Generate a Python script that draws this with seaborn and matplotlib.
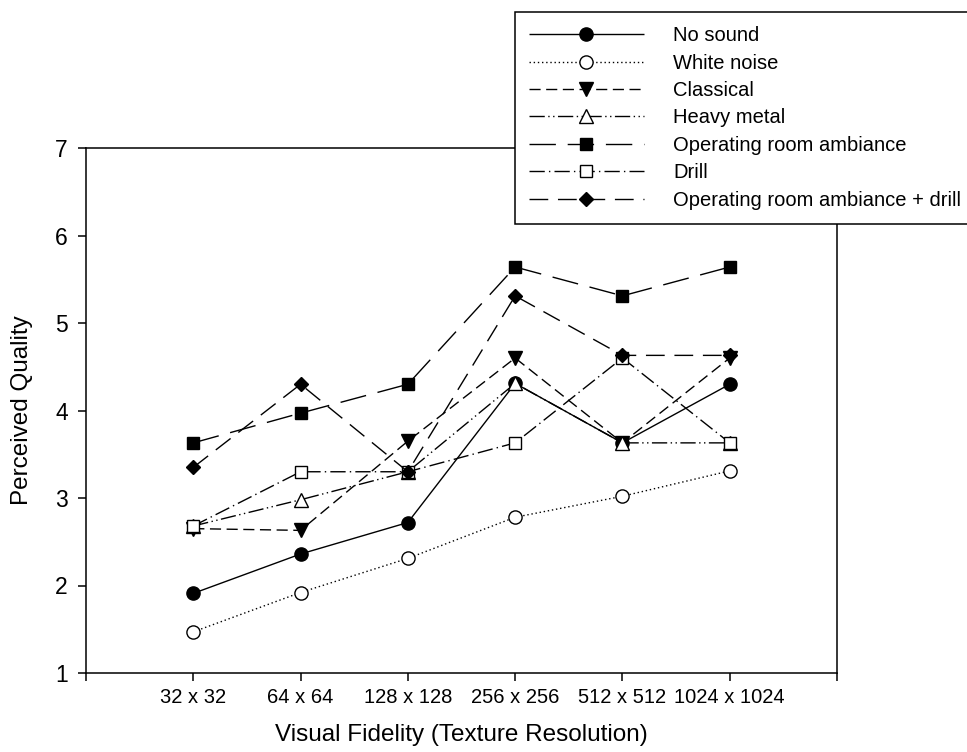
import matplotlib
matplotlib.use("Agg")
import matplotlib.pyplot as plt
import seaborn as sns
import pandas as pd

categories = ["32 x 32", "64 x 64", "128 x 128", "256 x 256", "512 x 512", "1024 x 1024"]
no_sound = [1.91, 2.36, 2.72, 4.31, 3.63, 4.30]
white_noise = [1.47, 1.92, 2.31, 2.78, 3.02, 3.31]
classical = [2.65, 2.63, 3.65, 4.60, 3.63, 4.60]
heavy_metal = [2.68, 2.98, 3.30, 4.31, 3.63, 3.63]
or_ambiance = [3.63, 3.97, 4.30, 5.64, 5.31, 5.64]
drill = [2.68, 3.30, 3.30, 3.63, 4.60, 3.63]
or_drill = [3.35, 4.30, 3.30, 5.31, 4.63, 4.63]
y_ticks = [1, 2, 3, 4, 5, 6, 7]

series = [
    ("No sound", no_sound, "o", "black", (0, ()), 9.5),
    ("White noise", white_noise, "o", "white", (0, (1, 2)), 9.5),
    ("Classical", classical, "v", "black", (0, (8, 4)), 10),
    ("Heavy metal", heavy_metal, "^", "white", (0, (11, 2.5, 1, 2.5, 1, 2.5)), 10),
    ("Operating room ambiance", or_ambiance, "s", "black", (0, (19, 8.5)), 9),
    ("Drill", drill, "s", "white", (0, (11, 3, 1, 3)), 9),
    ("Operating room ambiance + drill", or_drill, "D", "black", (0, (13.5, 7)), 7.5),
]

sns.set_style("ticks")
plt.rcParams["font.family"] = ["Liberation Sans", "DejaVu Sans"]
plt.rcParams.update({"text.color": "black", "axes.labelcolor": "black",
                     "xtick.color": "black", "ytick.color": "black"})

fig = plt.figure(figsize=(9.67, 7.52), dpi=100)
ax = fig.add_axes([86 / 967, 1 - 673 / 752, (837 - 86) / 967, (673 - 148) / 752])

for name, vals, mk, fc, ls, ms in series:
    df = pd.DataFrame({"x": categories, "y": vals})
    sns.lineplot(data=df, x="x", y="y", ax=ax, sort=False, color="black",
                 linestyle=ls, linewidth=1.0, marker=mk, markersize=ms,
                 markerfacecolor=fc, markeredgecolor="black", markeredgewidth=1.0,
                 label=name)

ax.set_xlim(-1, len(categories))
ax.set_xticks(list(range(-1, len(categories) + 1)))
ax.set_xticklabels([""] + categories + [""], fontsize=14.5)
ax.set_ylim(1, 7)
ax.set_yticks(y_ticks)
ax.set_yticklabels([str(t) for t in y_ticks], fontsize=16.5)
ax.tick_params(axis="both", direction="out", length=6, width=1.1, color="black")
ax.tick_params(axis="x", pad=5)
ax.tick_params(axis="y", pad=7)
for s in ax.spines.values():
    s.set_visible(True)
    s.set_linewidth(1.1)
    s.set_color("black")

ax.set_xlabel("Visual Fidelity (Texture Resolution)", fontsize=17.5, labelpad=12)
ax.set_ylabel("Perceived Quality", fontsize=17.5, labelpad=16)

leg = ax.legend(loc="upper left", bbox_to_anchor=(515 / 967, 1 - 12 / 752),
                bbox_transform=fig.transFigure, frameon=True, fancybox=False,
                edgecolor="black", framealpha=1, fontsize=14.5, handlelength=5.7,
                handletextpad=1.45, labelspacing=0.42, borderpad=0.7,
                borderaxespad=0, numpoints=1)
leg.get_frame().set_linewidth(1.1)

fig.savefig("out.png", dpi=100, facecolor="white")
